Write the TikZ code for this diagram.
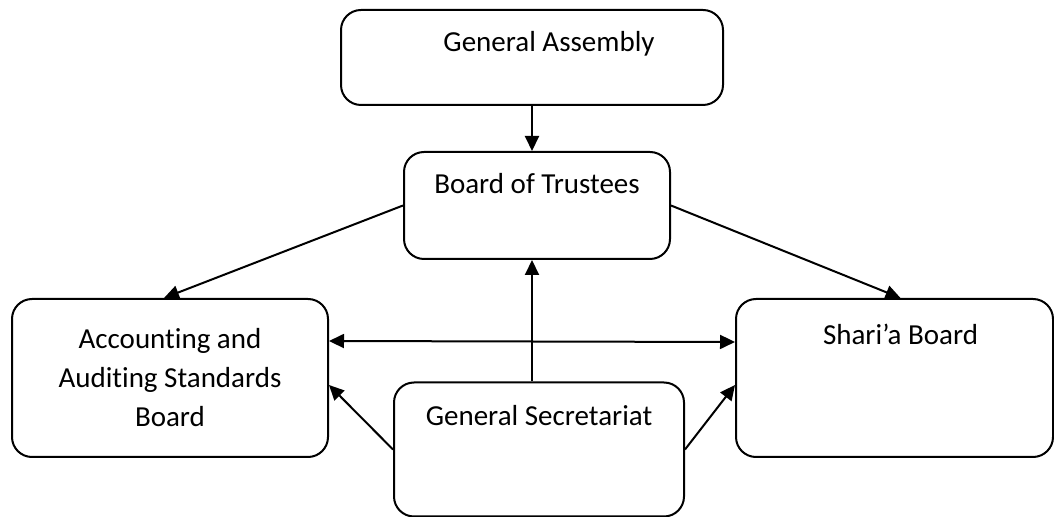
\documentclass[tikz,border=0pt]{standalone}
\usepackage{fontspec}
\setmainfont{Carlito}[Ligatures={TeX,NoCommon}]
\usetikzlibrary{arrows.meta, positioning, calc}
\tikzset{every node/.append style={align=center}}
\tikzset{
  orgbox/.style={draw, line width=1pt, rounded corners=10pt, inner sep=0pt,
                 font=\fontsize{14.5}{19.5}\selectfont},
  orglink/.style={line width=1pt, -{Triangle[length=7.5pt,width=7pt]}},
}

\begin{document}
\begin{tikzpicture}[x=0.5pt,y=-0.5pt]
\useasboundingbox (0,0) rectangle (1054,517);

% ── Boxes ────────────────────────────────────────────────────────────────────
\node[orgbox, minimum width=191pt, text height=21pt, text depth=26.5pt]
     (ga) at (532,57.5) {\hspace*{17pt}General Assembly};
\node[orgbox, minimum width=133pt, text height=21pt, text depth=32.5pt]
     (bot) at (537,205.5) {Board of Trustees};
\node[orgbox, minimum width=158pt, minimum height=79pt]
     (aasb) at (170,378) {Accounting and\\Auditing Standards\\Board};
\node[orgbox, minimum width=158.5pt, text height=23pt, text depth=56pt]
     (sb) at (894.5,378) {\hspace*{6pt}Shari’a Board};
\node[orgbox, minimum width=145pt, text height=21.5pt, text depth=45.5pt]
     (gs) at (539,449.5) {General Secretariat};

% ── Connectors ───────────────────────────────────────────────────────────────
\coordinate (spine) at (532,0);
\draw[orglink] (ga.south -| spine) -- (bot.north -| spine);
\draw[orglink] (gs.north -| spine) -- (bot.south -| spine);
\draw[orglink] (bot.west) -- ([xshift=-3pt]aasb.north);
\draw[orglink] (bot.east) -- ([xshift=3pt]sb.north);
\draw[orglink, {Triangle[length=7.5pt,width=7pt]}-{Triangle[length=7.5pt,width=7pt]}]
     ([yshift=18.5pt]aasb.east) -- ([yshift=18pt]sb.west);
\draw[orglink] (gs.west) -- ([yshift=-3.5pt]aasb.east);
\draw[orglink] (gs.east) -- ([yshift=-3.5pt]sb.west);

\end{tikzpicture}
\end{document}
